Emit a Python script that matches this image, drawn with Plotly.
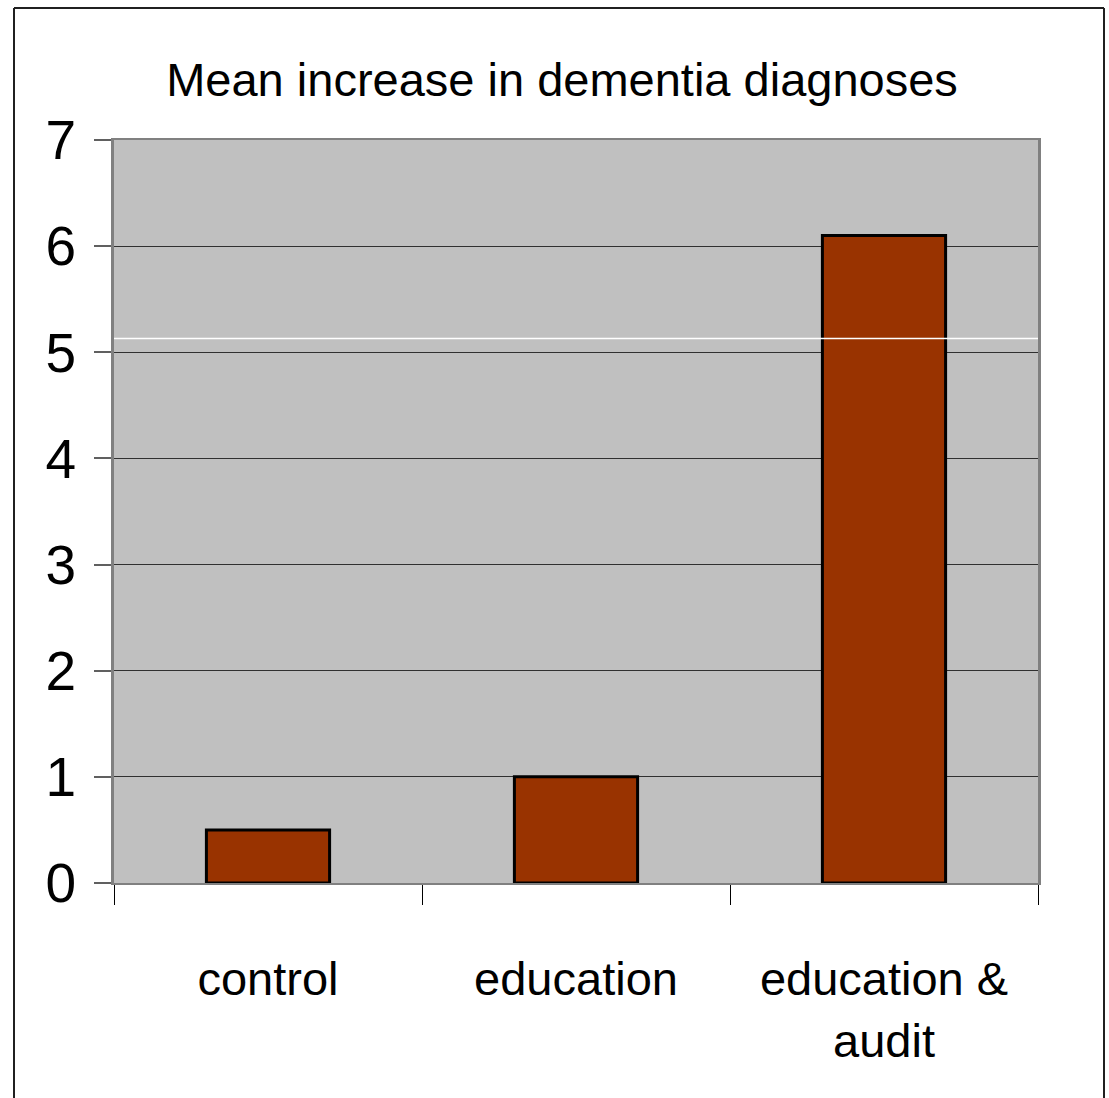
import plotly.graph_objects as go

categories = ['control', 'education', 'education &<br>audit']
values = [0.5, 1.0, 6.1]
y_ticks = [0, 1, 2, 3, 4, 5, 6, 7]

FONT = 'Liberation Sans, Arial, sans-serif'

fig = go.Figure()
fig.add_trace(go.Bar(x=categories, y=values,
                     marker=dict(color='#993300', line=dict(color='black', width=3))))

fig.update_layout(
    width=1109, height=1098,
    margin=dict(l=114, r=71, t=140, b=215),
    paper_bgcolor='white', plot_bgcolor='#C0C0C0',
    bargap=0.6, showlegend=False,
    font=dict(family=FONT, color='black', size=47),
    title=dict(text='Mean increase in dementia diagnoses', font=dict(family=FONT, size=47),
               x=562 / 1109, xanchor='center', y=1 - 80 / 1098, yanchor='middle', yref='container'),
)
fig.update_xaxes(showline=True, linecolor='#808080', linewidth=2, mirror=True,
                 ticks='outside', tickson='boundaries', ticklen=20, tickcolor='black', tickwidth=1,
                 showgrid=False, ticklabelstandoff=54, tickangle=0, automargin=False)
fig.update_yaxes(range=[0, 7], tickvals=y_ticks, showline=True, linecolor='#808080', linewidth=3,
                 mirror=True, ticks='outside', ticklen=17, tickcolor='#606060', tickwidth=2,
                 showgrid=True, gridcolor='#303030', gridwidth=1, zeroline=False,
                 tickfont=dict(size=55), ticklabelstandoff=7, automargin=False)

# white streak across the plot area
fig.add_shape(type='line', xref='paper', yref='y', x0=0, x1=1, y0=5.13, y1=5.13,
              line=dict(color='white', width=1.5))

# outer slide frame (left, top, right)
fl, fr, ft = (14 - 114) / 924, (1104 - 114) / 924, (883 - 8) / 743
fb = (883 - 1100) / 743
for x0, y0, x1, y1 in [(fl, fb, fl, ft), (fl, ft, fr, ft), (fr, ft, fr, fb)]:
    fig.add_shape(type='line', xref='paper', yref='paper', x0=x0, y0=y0, x1=x1, y1=y1,
                  line=dict(color='#202020', width=2))

# drop the default page margin so the figure sits at the window corner
fig.write_html('out.html', config={'displayModeBar': False},
               post_script="document.body.style.margin='0';")
